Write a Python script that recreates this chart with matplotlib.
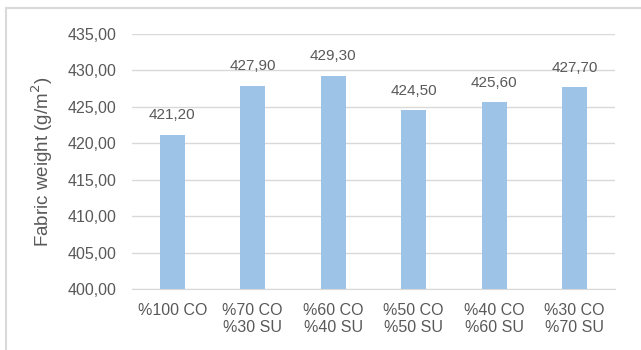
import matplotlib.pyplot as plt
from matplotlib.patches import Rectangle

plt.rcParams['font.family'] = ['Liberation Sans', 'DejaVu Sans']

mezclas = ['%100 CO', '%70 CO\n%30 SU', '%60 CO\n%40 SU',
           '%50 CO\n%50 SU', '%40 CO\n%60 SU', '%30 CO\n%70 SU']
gramaj = [421.20, 427.90, 429.30, 424.50, 425.60, 427.70]
y_ticks = [400, 405, 410, 415, 420, 425, 430, 435]

gris = '#595959'

fig = plt.figure(figsize=(6.41, 3.5), dpi=100)
ax = fig.add_axes([0.206, 0.174, 0.753, 0.729])

# marco del grafico
fig.patches.append(Rectangle((6 / 641, -0.1), 1.2, 1 - 8 / 350 + 0.1,
                             transform=fig.transFigure, fill=False,
                             edgecolor='#D9D9D9', linewidth=1.5))

x = range(len(mezclas))
barras = ax.bar(x, [v - 400 for v in gramaj], bottom=400, width=0.31,
                color='#9DC3E6', zorder=3)

for xi, v in zip(x, gramaj):
    ax.annotate(f'{v:.2f}'.replace('.', ','), (xi, v), xytext=(0, 9),
                textcoords='offset points', ha='center', va='bottom',
                fontsize=11, color=gris)

ax.set_ylim(400, 435)
ax.set_xlim(-0.5, len(mezclas) - 0.5)
ax.set_yticks(y_ticks)
ax.set_yticklabels([f'{t:.2f}'.replace('.', ',') for t in y_ticks])
ax.set_xticks(list(x))
ax.set_xticklabels(mezclas, multialignment='center', linespacing=1.15)
ax.tick_params(length=0, labelsize=11.5, colors=gris, pad=10)
ax.tick_params(axis='y', labelsize=11.5, pad=11)

ax.grid(axis='y', color='#D9D9D9', linewidth=1, zorder=0)
for s in ['top', 'right', 'left']:
    ax.spines[s].set_visible(False)
ax.spines['bottom'].set_color('#D9D9D9')

ax.set_ylabel('Fabric weight (g/m$^2$)', fontsize=13.5, color=gris, labelpad=9)

plt.savefig('out.png', dpi=100)
